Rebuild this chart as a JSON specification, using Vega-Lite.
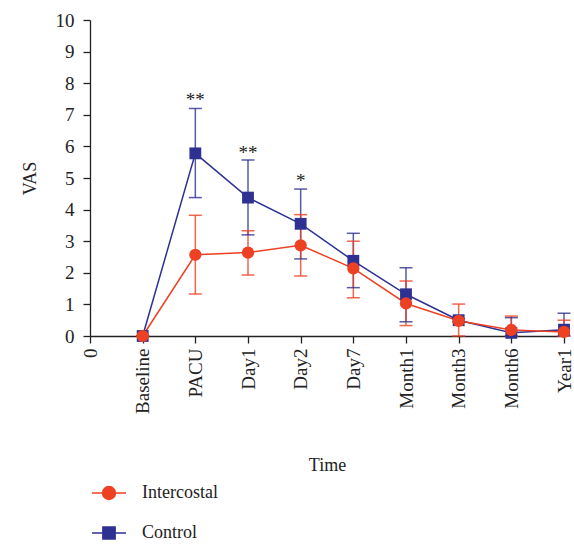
{
  "$schema": "https://vega.github.io/schema/vega-lite/v6.json",
  "autosize": {"type": "none"},
  "width": 474,
  "height": 316,
  "padding": {"left": 90, "top": 20, "right": 10, "bottom": 208},
  "background": "white",
  "config": {
    "font": "Liberation Serif",
    "view": {"stroke": null},
    "axis": {"grid": false, "domainColor": "#222", "tickColor": "#222", "labelColor": "#222", "titleColor": "#222", "labelFont": "Liberation Serif", "titleFont": "Liberation Serif", "labelFontSize": 19, "titleFontSize": 18, "titleFontWeight": "normal", "domainWidth": 1.3, "tickWidth": 1.3, "tickSize": 7, "labelFlush": false, "labelOverlap": false}
  },
  "datasets": {
    "vas": [
      {"group": "Control", "t": 1, "mean": 0, "lo": 0, "hi": 0},
      {"group": "Control", "t": 2, "mean": 5.78, "lo": 4.38, "hi": 7.2},
      {"group": "Control", "t": 3, "mean": 4.38, "lo": 3.2, "hi": 5.57},
      {"group": "Control", "t": 4, "mean": 3.55, "lo": 2.44, "hi": 4.65},
      {"group": "Control", "t": 5, "mean": 2.38, "lo": 1.53, "hi": 3.25},
      {"group": "Control", "t": 6, "mean": 1.32, "lo": 0.45, "hi": 2.16},
      {"group": "Control", "t": 7, "mean": 0.5, "lo": 0.45, "hi": 0.55},
      {"group": "Control", "t": 8, "mean": 0.1, "lo": 0, "hi": 0.58},
      {"group": "Control", "t": 9, "mean": 0.2, "lo": 0, "hi": 0.72},
      {"group": "Intercostal", "t": 1, "mean": 0, "lo": 0, "hi": 0},
      {"group": "Intercostal", "t": 2, "mean": 2.57, "lo": 1.33, "hi": 3.82},
      {"group": "Intercostal", "t": 3, "mean": 2.64, "lo": 1.93, "hi": 3.33},
      {"group": "Intercostal", "t": 4, "mean": 2.87, "lo": 1.9, "hi": 3.84},
      {"group": "Intercostal", "t": 5, "mean": 2.14, "lo": 1.21, "hi": 3.0},
      {"group": "Intercostal", "t": 6, "mean": 1.03, "lo": 0.33, "hi": 1.74},
      {"group": "Intercostal", "t": 7, "mean": 0.48, "lo": 0, "hi": 1.01},
      {"group": "Intercostal", "t": 8, "mean": 0.19, "lo": 0, "hi": 0.63},
      {"group": "Intercostal", "t": 9, "mean": 0.13, "lo": 0, "hi": 0.5}
    ],
    "stars": [
      {"t": 2, "mean": 7.56, "label": "**"},
      {"t": 3, "mean": 5.9, "label": "**"},
      {"t": 4, "mean": 4.99, "label": "*"}
    ]
  },
  "encoding": {
    "x": {"field": "t", "type": "quantitative", "scale": {"domain": [0, 9], "nice": false},
      "axis": {"values": [0,1,2,3,4,5,6,7,8,9], "labelExpr": "['0','Baseline','PACU','Day1','Day2','Day7','Month1','Month3','Month6','Year1'][datum.value]", "labelAngle": -90, "labelAlign": "right", "labelBaseline": "middle", "labelPadding": 5, "title": "Time", "titlePadding": 43}},
    "y": {"field": "mean", "type": "quantitative", "scale": {"domain": [0, 10], "nice": false},
      "axis": {"values": [0,1,2,3,4,5,6,7,8,9,10], "title": "VAS", "labelPadding": 9, "titlePadding": 16}}
  },
  "layer": [
    {
      "data": {"name": "vas"},
      "mark": {"type": "line", "strokeWidth": 1.5},
      "encoding": {
        "color": {"field": "group", "type": "nominal", "scale": {"domain": ["Intercostal", "Control"], "range": ["#ee4023", "#2e3192"]},
          "legend": {"orient": "none", "legendX": 1, "legendY": 455, "title": null, "direction": "vertical", "symbolSize": 1156, "symbolStrokeWidth": 1.5, "labelFontSize": 18, "labelFont": "Liberation Serif", "labelColor": "#222", "labelOffset": 15, "rowPadding": 12,
            "encode": {"symbols": {"update": {
              "shape": {"signal": "datum.value === 'Control' ? 'M-1,0H1M-0.36,-0.36H0.36V0.36H-0.36Z' : 'M-1,0H1M-0.38,0A0.38,0.38,0,1,0,0.38,0A0.38,0.38,0,1,0,-0.38,0Z'"},
              "fill": {"signal": "datum.value === 'Control' ? '#2e3192' : '#ee4023'"},
              "stroke": {"signal": "datum.value === 'Control' ? '#2e3192' : '#ee4023'"},
              "strokeWidth": {"value": 1.5},
              "opacity": {"value": 1}
            }}}
          }
        }
      }
    },
    {
      "data": {"name": "vas"},
      "mark": {"type": "rule", "strokeWidth": 1.5, "opacity": 0.8},
      "encoding": {
        "y": {"field": "lo", "type": "quantitative"},
        "y2": {"field": "hi"},
        "color": {"field": "group", "type": "nominal"}
      }
    },
    {
      "data": {"name": "vas"},
      "mark": {"type": "tick", "orient": "horizontal", "size": 13, "thickness": 1.5, "opacity": 0.8},
      "encoding": {
        "y": {"field": "lo", "type": "quantitative"},
        "color": {"field": "group", "type": "nominal"}
      }
    },
    {
      "data": {"name": "vas"},
      "mark": {"type": "tick", "orient": "horizontal", "size": 13, "thickness": 1.5, "opacity": 0.8},
      "encoding": {
        "y": {"field": "hi", "type": "quantitative"},
        "color": {"field": "group", "type": "nominal"}
      }
    },
    {
      "data": {"name": "vas"},
      "transform": [{"filter": "datum.group === 'Control'"}],
      "mark": {"type": "point", "filled": true, "opacity": 1, "size": 140, "shape": "square", "color": "#2e3192"}
    },
    {
      "data": {"name": "vas"},
      "transform": [{"filter": "datum.group === 'Intercostal'"}],
      "mark": {"type": "point", "filled": true, "opacity": 1, "size": 150, "shape": "circle", "color": "#ee4023"}
    },
    {
      "data": {"name": "stars"},
      "mark": {"type": "text", "fontSize": 19, "color": "#222", "baseline": "middle", "align": "center", "dy": 3},
      "encoding": {
        "text": {"field": "label"}
      }
    }
  ]
}
